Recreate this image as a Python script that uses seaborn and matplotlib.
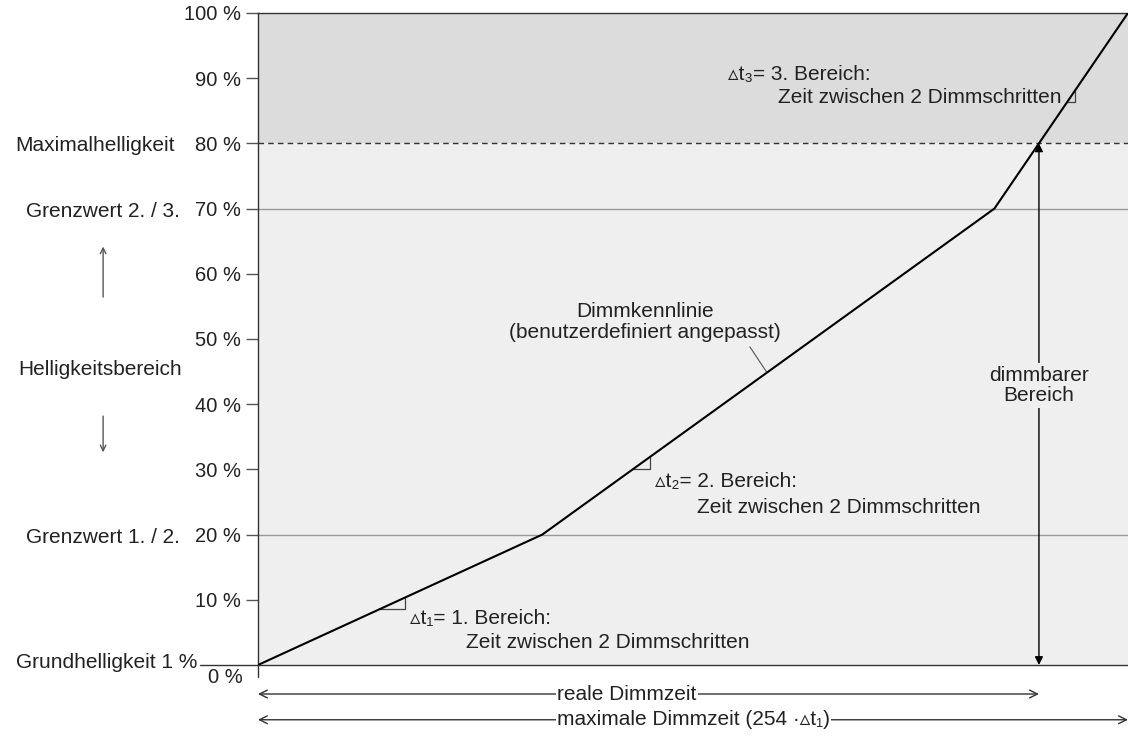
import numpy as np
import matplotlib
matplotlib.use('Agg')
import matplotlib.pyplot as plt
import seaborn as sns

# Dimmkennlinie: Knickpunkte (x in Dimmschritten, y in %)
dimm_x = [0, 83, 215, 254]
dimm_y = [0, 20, 70, 100]

y_ticks = [10, 20, 30, 40, 50, 60, 70, 80, 90, 100]
y_tick_labels = ['10 %', '20 %', '30 %', '40 %', '50 %', '60 %', '70 %', '80 %', '90 %', '100 %']

grundhelligkeit = 0
grenzwert_12 = 20
grenzwert_23 = 70
maximalhelligkeit = 80
max_dimmzeit = 254

# Stufen (Start x, Breite) fuer die Delta-t Markierungen
step_x0 = [35.6, 109.5, 236.3]
step_w = [7.3, 4.9, 2.2]

sns.set_style('white')
plt.rcParams['font.family'] = ['Liberation Sans', 'DejaVu Sans']

FS = 15
TXT = '#222222'

fig = plt.figure(figsize=(11.28, 7.37), dpi=100)
ax = fig.add_axes([0.2287, 0.0977, 0.7713, 0.8847])

# Hintergrundbereiche
ax.axhspan(0, maximalhelligkeit, color='#efefef', lw=0, zorder=0)
ax.axhspan(maximalhelligkeit, 100, color='#dcdcdc', lw=0, zorder=0)

ax.axhline(maximalhelligkeit, color='#333333', lw=1, ls=(0, (4, 3)), zorder=1)
ax.axhline(grenzwert_23, color='#999999', lw=1, zorder=1)
ax.axhline(grenzwert_12, color='#999999', lw=1, zorder=1)

sns.lineplot(x=dimm_x, y=dimm_y, color='black', linewidth=1.5, ax=ax, zorder=3)

ax.set_xlim(0, max_dimmzeit)
ax.set_ylim(0, 100)
ax.set_xticks([])
ax.set_yticks(y_ticks)
ax.set_yticklabels(y_tick_labels, fontsize=14.5, color=TXT)
ax.tick_params(axis='y', direction='out', length=9, width=1, color='#555555', pad=3, left=True)
ax.spines['right'].set_visible(False)
for s in ['top', 'bottom', 'left']:
    ax.spines[s].set_color('#333333')
    ax.spines[s].set_linewidth(1)

yax = ax.get_yaxis_transform()
# 0 % Beschriftung und verlaengerte Linien
ax.plot([-0.067, 0], [0, 0], color='#333333', lw=1, transform=yax, clip_on=False)
ax.plot([0, 0], [-1.8, 0], color='#333333', lw=1, clip_on=False)
ax.text(-0.017, -1.9, '0 %', transform=yax, ha='right', va='center', fontsize=14.5, color=TXT)

# Linke Beschriftungen
ax.text(-0.0954, maximalhelligkeit - 0.4, 'Maximalhelligkeit', transform=yax, ha='right', va='center', fontsize=FS, color=TXT)
ax.text(-0.0897, grenzwert_23 - 0.4, 'Grenzwert 2. / 3.', transform=yax, ha='right', va='center', fontsize=FS, color=TXT)
ax.text(-0.0897, grenzwert_12 - 0.4, 'Grenzwert 1. / 2.', transform=yax, ha='right', va='center', fontsize=FS, color=TXT)
ax.text(-0.0701, grundhelligkeit + 0.4, 'Grundhelligkeit 1 %', transform=yax, ha='right', va='center', fontsize=FS, color=TXT)
ax.text(-0.1816, 45.3, 'Helligkeitsbereich', transform=yax, ha='center', va='center', fontsize=FS, color=TXT)
ax.annotate('', xy=(-0.178, 64.6), xytext=(-0.178, 56), xycoords=yax, textcoords=yax,
            arrowprops=dict(arrowstyle='->', color='#555555', lw=1), annotation_clip=False)
ax.annotate('', xy=(-0.178, 32.2), xytext=(-0.178, 38.6), xycoords=yax, textcoords=yax,
            arrowprops=dict(arrowstyle='->', color='#555555', lw=1), annotation_clip=False)

# Delta-t Stufen
for x0, w in zip(step_x0, step_w):
    y0 = np.interp(x0, dimm_x, dimm_y)
    y1 = np.interp(x0 + w, dimm_x, dimm_y)
    ax.plot([x0, x0 + w, x0 + w], [y0, y0, y1], color='#444444', lw=0.9, zorder=2)

ax.text(44.4, 7.2, '\u25b5t\u2081= 1. Bereich:', fontsize=FS, va='center', ha='left', color=TXT)
ax.text(60.7, 3.4, 'Zeit zwischen 2 Dimmschritten', fontsize=FS, va='center', ha='left', color=TXT)
ax.text(116.0, 28.1, '\u25b5t\u2082= 2. Bereich:', fontsize=FS, va='center', ha='left', color=TXT)
ax.text(128.2, 24.2, 'Zeit zwischen 2 Dimmschritten', fontsize=FS, va='center', ha='left', color=TXT)
ax.text(137.3, 90.6, '\u25b5t\u2083= 3. Bereich:', fontsize=FS, va='center', ha='left', color=TXT)
ax.text(151.8, 87.0, 'Zeit zwischen 2 Dimmschritten', fontsize=FS, va='center', ha='left', color=TXT)

# Dimmkennlinie Beschriftung
ax.text(113.0, 52.6, 'Dimmkennlinie\n(benutzerdefiniert angepasst)', fontsize=FS, ha='center', va='center',
        linespacing=1.15, color=TXT)
lead_x = 148.6
ax.plot([143.6, lead_x], [48.8, np.interp(lead_x, dimm_x, dimm_y)], color='#555555', lw=0.8)

# dimmbarer Bereich
x80 = np.interp(maximalhelligkeit, dimm_y, dimm_x)
ax.annotate('', xy=(x80, maximalhelligkeit), xytext=(x80, 0),
            arrowprops=dict(arrowstyle='<|-|>', color='black', lw=1, mutation_scale=12,
                            shrinkA=0, shrinkB=0), zorder=2)
ax.text(x80, 42.9, 'dimmbarer\nBereich', fontsize=FS, ha='center', va='center', linespacing=1.1,
        color=TXT, bbox=dict(facecolor='#efefef', edgecolor='none', pad=2), zorder=4)

# Zeitpfeile unten
ax.annotate('', xy=(x80, -4.45), xytext=(0, -4.45),
            arrowprops=dict(arrowstyle='<->', color='#333333', lw=1, mutation_scale=14, shrinkA=0, shrinkB=0),
            annotation_clip=False)
ax.text(87.3, -4.45, 'reale Dimmzeit', fontsize=FS, ha='left', va='center', color=TXT,
        bbox=dict(facecolor='white', edgecolor='none', pad=1), clip_on=False)
ax.annotate('', xy=(max_dimmzeit, -8.4), xytext=(0, -8.4),
            arrowprops=dict(arrowstyle='<->', color='#333333', lw=1, mutation_scale=14, shrinkA=0, shrinkB=0),
            annotation_clip=False)
ax.text(87.3, -8.4, 'maximale Dimmzeit (254 \u00b7\u25b5t\u2081)', fontsize=FS, ha='left', va='center', color=TXT,
        bbox=dict(facecolor='white', edgecolor='none', pad=1), clip_on=False)

fig.savefig('out.png', dpi=100)
